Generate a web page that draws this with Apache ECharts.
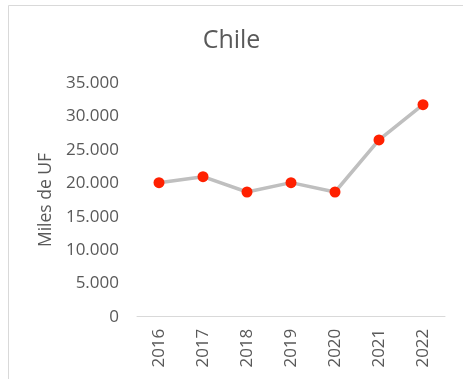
<!DOCTYPE html>
<html>
<head>
<meta charset="utf-8">
<style>
  html, body { margin: 0; padding: 0; background: #ffffff; }
  #chart { width: 463px; height: 379px; }
</style>
<script src="https://cdn.jsdelivr.net/npm/echarts@6/dist/echarts.min.js"></script>
</head>
<body>
<div id="chart"></div>
<script>
// Annual totals for Chile, in thousands of UF
const years = ['2016', '2017', '2018', '2019', '2020', '2021', '2022'];
const milesUF = [20100, 21000, 18700, 20100, 18700, 26500, 31800];
const yTicks = [0, 5000, 10000, 15000, 20000, 25000, 30000, 35000];

const FONT = '"Open Sans", sans-serif';
const TEXT = '#595959';

// Spanish-style thousands separator: 35000 -> "35.000"
function fmt(v) {
  return String(v).replace(/\B(?=(\d{3})+(?!\d))/g, '.');
}

const chart = echarts.init(document.getElementById('chart'), null, { renderer: 'canvas' });
chart.setOption({
  animation: false,
  backgroundColor: '#ffffff',
  graphic: [{
    type: 'rect',
    silent: true,
    shape: { x: 8.5, y: 5.5, width: 700, height: 700 },
    style: { fill: 'none', stroke: '#d9d9d9', lineWidth: 1 }
  }],
  title: {
    text: 'Chile',
    left: 'center',
    top: 23,
    textStyle: { fontFamily: FONT, fontSize: 25, fontWeight: 'normal', color: TEXT }
  },
  grid: { left: 137, right: 18, top: 83.3, bottom: 62.3 },
  xAxis: {
    type: 'category',
    data: years,
    boundaryGap: true,
    axisLine: { lineStyle: { color: '#d9d9d9', width: 1 } },
    axisTick: { show: false },
    axisLabel: {
      rotate: 90,
      margin: 12,
      fontFamily: FONT,
      fontSize: 17,
      color: TEXT
    }
  },
  yAxis: {
    type: 'value',
    min: yTicks[0],
    max: yTicks[yTicks.length - 1],
    interval: yTicks[1] - yTicks[0],
    name: 'Miles de UF',
    nameLocation: 'middle',
    nameGap: 81,
    nameTextStyle: { fontFamily: FONT, fontSize: 17.5, color: TEXT },
    axisLine: { show: false },
    axisTick: { show: false },
    splitLine: { show: false },
    axisLabel: {
      margin: 18,
      fontFamily: FONT,
      fontSize: 17,
      color: TEXT,
      formatter: fmt
    }
  },
  series: [{
    type: 'line',
    data: milesUF,
    symbol: 'circle',
    symbolSize: 11,
    lineStyle: { color: '#bfbfbf', width: 3.5 },
    itemStyle: { color: '#ff2000', borderWidth: 0 }
  }]
});
</script>
</body>
</html>
